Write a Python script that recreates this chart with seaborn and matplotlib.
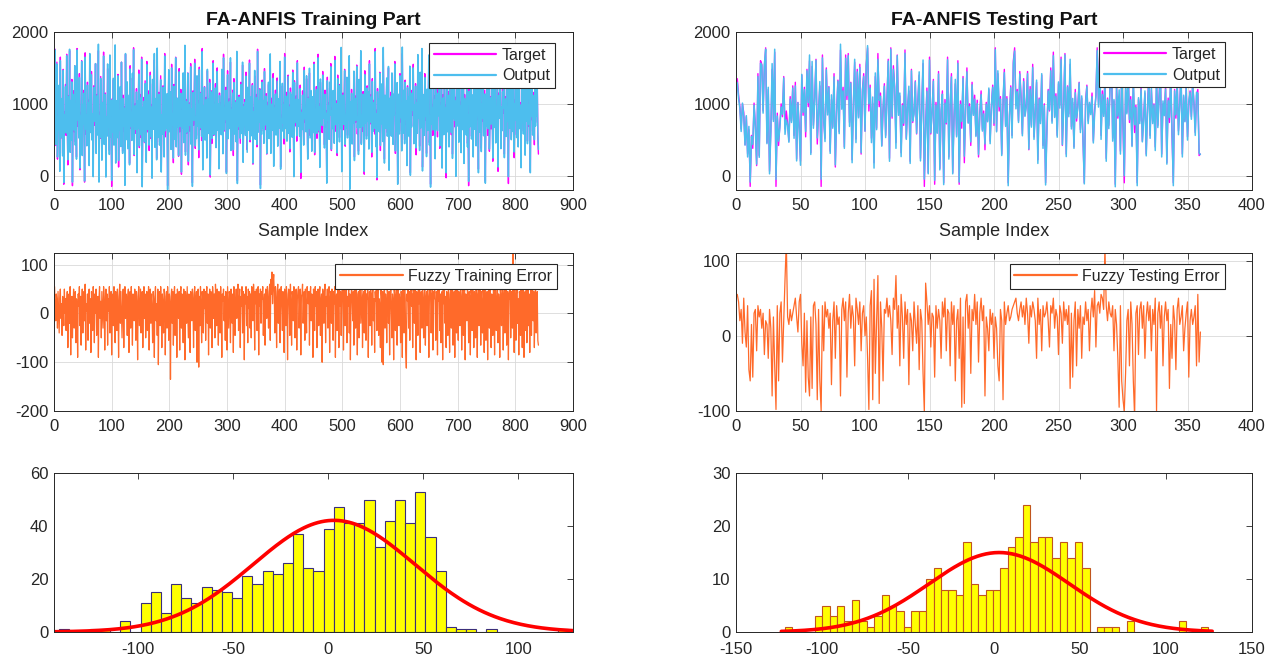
import matplotlib
matplotlib.use("Agg")
import matplotlib.pyplot as plt
import numpy as np
import pandas as pd
import seaborn as sns

sns.set_theme(style="white")
plt.rcParams['font.family'] = ['Liberation Sans', 'DejaVu Sans']
plt.rcParams['axes.unicode_minus'] = False

# training target (840 samples)
train_target = [
    700, 1760, 420, 980, 1580, 230, 860, 640, 1220, 90, 1650, 520, 760, 1030, 310, 1480, -120, 890, 640, 1270,
    560, 1690, 820, 150, 1110, 700, 1740, 380, 960, 520, 1340, -140, 800, 1180, 610, 1530, 470, 930, 260, 1770,
    690, 1010, 540, 1420, 80, 870, 620, 1600, 330, 950, 740, 1190, -90, 1710, 580, 860, 420, 1300, 760, 1050,
    190, 1680, 630, 900, 1450, 510, 820, 40, 1250, 700, 980, 1560, 360, 760, 1130, 600, 1740, -60, 880, 520,
    1380, 820, 260, 1020, 640, 1720, 470, 910, 1150, 30, 800, 590, 1490, 710, 980, 350, 1640, 560, 840, -150,
    1070, 650, 1330, 480, 890, 1760, 220, 760, 1010, 580, 1410, 120, 930, 690, 1220, 450, 1580, 800, 340, 1120,
    620, 960, -80, 1690, 540, 870, 1260, 410, 780, 1040, 170, 1530, 660, 920, 500, 1360, 730, 1780, 280, 850,
    1000, 590, 1210, 60, 940, 700, 1470, 390, 820, 1130, 530, 1650, -110, 880, 640, 1090, 460, 1320, 770, 210,
    1590, 610, 910, 1180, 350, 760, 1440, 520, 990, -30, 1280, 690, 850, 1610, 430, 720, 1060, 240, 1730, 580,
    830, 1160, 470, 940, 1390, 60, 770, 620, 1250, 880, 310, 1700, 540, 960, 710, 1110, -140, 860, 1420, 650,
    780, 1030, 400, 1550, 690, 900, 180, 1270, 560, 820, 1650, 440, 990, 730, 1080, 270, 1490, 610, 870, 1200,
    20, 940, 680, 1370, 510, 800, 1720, 330, 1060, 590, 880, 1430, 150, 760, 1010, 620, 1560, 470, 910, -100,
    1180, 700, 950, 1620, 380, 830, 560, 1290, 720, 1040, 250, 1510, 640, 870, 1160, 490, 1770, 110, 930, 680,
    1240, 540, 860, 1090, 300, 1460, 730, 980, 610, 1340, -20, 900, 1180, 450, 780, 1600, 560, 1020, 700, 1280,
    420, 850, 1500, 650, 930, 140, 1150, 760, 1010, 580, 1390, 860, 330, 1690, 620, 970, 740, 1230, 50, 880,
    1460, 530, 810, 1070, 690, 1580, 400, 940, 760, 1190, 280, 1350, 610, 880, 1040, 520, 1720, -70, 960, 650,
    1120, 780, 450, 1300, 870, 640, 1540, 230, 990, 720, 1060, 580, 1440, 810, 360, 1170, 680, 920, 1610, 470,
    830, 1050, 610, 1280, 160, 940, 700, 1390, 550, 870, 1130, 400, 1760, 660, 960, 790, 1210, -130, 890, 620,
    1330, 720, 1000, 470, 1490, 640, 850, 1140, 300, 1020, 760, 1270, 560, 920, 1640, 380, 830, 1080, 650, 1420,
    210, 970, 740, 1190, 590, 880, 1360, 470, 1050, 700, 960, 1530, 120, 840, 630, 1250, 780, 1010, 440, 1700,
    690, 900, 1160, 520, 810, 1400, 640, 980, 330, 1220, 760, 1060, 580, 1470, 870, 40, 1320, 690, 940, 1110,
    480, 1600, 730, 890, 1030, 570, 1260, -40, 910, 680, 1180, 820, 450, 1510, 740, 970, 620, 1350, 860, 260,
    1090, 710, 1430, 560, 930, 1170, 380, 840, 1010, 650, 1580, 290, 960, 770, 1240, 520, 880, 1690, 610, 1000,
    170, 1300, 750, 920, 600, 1450, 830, 1060, 430, 1190, 680, 900, -90, 1370, 740, 1010, 560, 1220, 870, 1560,
    350, 950, 690, 1130, 810, 470, 1660, 620, 880, 1040, 280, 1400, 760, 960, 530, 1270, 700, 1740, 90, 850,
    1150, 640, 990, 1480, 410, 870, 720, 1310, 560, 1070, 820, 1630, -150, 930, 680, 1200, 470, 1020, 780, 1390,
    260, 1110, 740, 950, 1540, 580, 860, 340, 1290, 700, 1010, 1720, 450, 830, 620, 1170, 890, 20, 1460, 760,
    980, 550, 1250, 810, 1080, 390, 1600, 720, 940, 1130, 260, 1350, 670, 880, 1050, 580, 1770, 430, 910, -60,
    1210, 800, 1020, 640, 1440, 350, 970, 760, 1180, 520, 1680, 880, 230, 1090, 700, 950, 1300, 600, 840, 1500,
    120, 990, 730, 1160, 560, 1380, 800, 460, 1040, 900, 1590, 310, 870, 680, 1230, -100, 960, 1110, 620, 1420,
    750, 1000, 380, 1700, 640, 880, 1150, 500, 1330, 720, 930, 180, 1250, 810, 1060, 590, 1470, 40, 920, 690,
    1190, 840, 1550, 470, 960, 720, 1280, 290, 1060, 620, 1640, 850, 1010, 410, 1360, 700, 900, 1740, 120, 830,
    1080, 600, 1420, 770, 940, 310, 1180, 680, 1030, 1590, 460, 880, -120, 1270, 740, 990, 560, 1480, 820, 1110,
    250, 1650, 700, 950, 540, 1200, 860, 1760, 380, 1010, 660, 1320, 150, 900, 1130, 590, 1440, 780, 980, -30,
    1520, 640, 890, 1170, 420, 1360, 720, 1040, 570, 1710, 300, 960, 820, 1250, 680, 1090, 20, 1580, 740, 930,
    1200, 510, 1690, 800, 1020, 360, 1300, 670, 940, 1480, 190, 1130, 760, 1000, 600, 1770, 450, 870, -140, 1220,
    710, 980, 1400, 550, 1090, 820, 280, 1610, 690, 930, 1160, 470, 1340, 780, 1050, 90, 1500, 640, 910, 1260,
    380, 1020, 760, 1650, 590, 870, 1190, -80, 1080, 730, 1390, 560, 960, 1710, 340, 820, 1100, 650, 1470, 900,
    200, 1260, 700, 1040, 1560, 480, 890, 760, 1330, 60, 1150, 820, 990, 1620, 410, 930, 680, 1210, 870, 1740,
    300, 960, 1100, 600, 1450, 780, 1000, -110, 1300, 690, 920, 1540, 520, 860, 1180, 740, 1680, 250, 1050, 800,
    1360, 570, 980, 1230, 430, 1600, 700, 1020, 880, 160, 1400, 760, 1070, 620, 1500, 940, 330, 1190, 810, 1720,
    480, 1040, 690, 1310, 900, 60, 1250, 780, 1450, 620, 980, 1160, 430, 1560, 740, 1090, 860, 1280, 540, 300,
]

# training error = target - output
train_error = [
    55, 10, -15, 40, 25, -30, 45, 5, -40, 30, 50, -10, 20, -45, 35, 15, -25, 50, 0, 30,
    -35, 20, 45, -70, 10, 40, -20, 55, -85, 25, 35, -50, 15, 50, -30, 0, 45, -60, 30, 20,
    -90, 40, 15, 55, -25, 35, -65, 10, 50, -40, 25, 45, -15, 60, -75, 20, 5, 40, -55, 35,
    50, -20, 30, -80, 45, 15, -35, 55, 25, -60, 40, 0, 50, -45, 20, 35, -90, 30, 55, -10,
    25, -50, 45, 10, -30, 55, 35, -75, 20, 50, -15, 40, -65, 30, 5, 55, -40, 25, 45, -85,
    15, 40, -25, 55, 30, -60, 45, 10, -35, 50, 20, -90, 35, 60, -20, 45, 0, -50, 30, 50,
    -70, 25, 55, -10, 40, 15, -45, 35, 50, -80, 20, 45, -30, 55, 10, -65, 40, 25, -15, 50,
    30, -55, 45, 20, -95, 35, 55, -25, 10, 50, -40, 30, 45, -70, 20, 55, -10, 40, -50, 25,
    45, -35, 15, 55, -75, 30, 50, -20, 40, 5, -60, 45, 25, -90, 35, 55, -15, 20, -45, 50,
    -105, 30, 45, -25, 55, 10, -70, 40, 20, -40, 50, 35, -85, 15, 45, -30, 55, 25, -55, 40,
    20, -135, 35, 50, -20, 45, -65, 30, 55, -45, 10, 40, -90, 50, 25, -10, 45, -75, 35, 55,
    -30, 40, 15, -60, 50, 25, -95, 45, 30, -20, 55, 5, -50, 40, 20, -80, 45, 35, -15, 50,
    25, -70, 40, 55, -35, 20, 45, -100, 30, 50, -110, 35, -25, 55, 15, -60, 45, 30, -40, 50,
    10, 45, -55, 35, 55, -20, 40, -85, 25, 50, -30, 45, 15, -70, 55, 35, -10, 40, -50, 60,
    30, -25, 50, 20, -65, 45, 35, -40, 55, 10, -90, 40, 25, 50, -15, 35, -55, 45, 20, -75,
    55, 15, -30, 45, 35, -60, 50, 25, -20, 40, -80, 55, 30, -45, 20, 50, -10, 40, 60, -35,
    25, 50, -70, 35, 15, 55, -40, 45, 30, -95, 40, 20, 55, -25, 35, -60, 50, 10, 45, -30,
    40, -50, 55, 25, -15, 60, 35, -75, 45, 20, 50, -35, 30, 55, -85, 40, 15, 50, -20, 45,
    30, 55, -45, 20, 40, -65, 50, 35, -10, 55, 25, -30, 45, 60, -55, 70, 40, 85, 20, 65,
    80, 35, -40, 55, 25, -70, 45, 60, -20, 40, 50, -60, 30, 55, 15, -35, 45, 25, -80, 50,
    35, -25, 55, 40, -95, 20, 50, 30, -45, 60, 15, -65, 45, 35, -15, 55, 25, -50, 40, 50,
    -75, 30, 45, 55, -30, 20, 50, -85, 35, 40, 60, -20, 25, 45, -55, 50, 10, -40, 55, 30,
    20, 45, -65, 35, 55, -15, 40, 25, -90, 50, 30, -35, 55, 15, 45, -70, 35, 50, -25, 40,
    55, -45, 25, 40, -100, 50, 30, -20, 45, 60, -60, 35, 15, 50, -30, 40, 55, -80, 25, 45,
    -20, 50, 35, -55, 45, 20, 55, -90, 30, 40, -35, 50, 25, -70, 60, 15, 45, -45, 35, 55,
    30, -75, 50, 20, -25, 45, 55, -60, 35, 15, 50, -40, 40, -95, 25, 55, 30, -15, 45, -65,
    50, 35, -30, 55, 20, -85, 40, 45, -50, 30, 60, -20, 15, 50, -70, 35, 45, -40, 55, 25,
    -55, 40, 30, 55, -90, 20, 45, -25, 50, 35, -65, 40, 55, -15, 30, -80, 45, 25, 50, -35,
    40, 55, -45, 30, 15, -70, 50, 35, -100, 45, -105, 25, 55, -30, 40, 20, -60, 50, 35, -20,
    45, -85, 30, 55, 10, -50, 40, 25, -95, 50, 35, -35, 45, 60, -65, 20, 55, -25, 40, 30,
    -60, 45, 35, -90, 50, 20, -40, 55, 30, -75, -112, 40, 25, 50, -30, 45, -55, 35, 55, 15,
    40, -70, 50, 25, -20, 55, 35, -95, 45, 30, -45, 50, 20, 60, -80, 35, 45, -30, 55, 25,
    -50, 40, 55, -65, 30, 45, -25, 50, 20, -90, 35, 55, 40, -40, 25, 50, -75, 45, 30, 55,
    15, -55, 45, 35, -85, 50, 25, 55, -35, 40, -60, 30, 45, -95, 50, 20, 55, -20, 35, -70,
    45, 30, -45, 55, 20, -80, 40, 50, -30, 35, 60, -65, 25, 45, -90, 55, 30, -40, 50, 20,
    -55, 45, 35, -25, 55, 40, -75, 30, 50, -45, 20, 55, -95, 40, 35, -15, 50, 25, -60, 45,
    30, -85, 50, 40, -35, 55, 20, -70, 45, 35, -50, 55, 30, -90, 40, 50, -25, 35, 55, -65,
    45, 20, -40, 50, 35, -80, 55, 25, -55, 40, 45, -95, 30, 55, -30, 50, 20, -70, 40, 35,
    -45, 55, 30, -85, 50, 25, -35, 45, 55, -60, 40, 20, -90, 50, 35, -25, 55, 45, -75, 30,
    50, -40, 35, 55, -65, 25, 45, -95, 40, 30, 55, -50, 20, 45, -30, 126, 35, -80, 50, 25,
    -55, 40, 55, -20, 30, -85, 45, 35, -45, 50, 20, -70, 55, 40, -90, 30, 45, -35, 50, -60,
    35, 55, -25, 40, -80, 20, 50, -45, 35, 55, -15, 45, -70, 30, 50, -40, 25, 45, -55, -65,
]

# testing target (360 samples)
test_target = [
    1350, 1120, 960, 650, 1000, 880, 430, 820, 300, 640, -150, 560, 380, 1010, 700, 140, 1420, 280, 1600, 1550,
    900, 1520, 1780, 460, 1200, 60, 620, 1480, 780, 1720, -150, 870, 420, 700, 1000, 820, 1380, 650, 900, 730,
    480, 1100, 760, 1250, 560, 1300, 230, 1020, 680, 200, 1400, 840, 1230, 540, 1480, 960, 1600, 320, 1520, 700,
    1080, 1620, 440, 900, 1250, -150, 1680, 760, 520, 1500, 880, 1240, 340, 1060, 680, 1420, 120, 900, 1330, 610,
    1750, 960, 1230, 400, 1680, 1060, 1700, 740, 1300, 220, 1000, 1580, 510, 1480, 820, 1550, 300, 1200, 1420, 620,
    1550, 1780, 900, 1260, 520, 1010, 180, 1380, 660, 1700, 960, 1150, 420, 900, 1280, 560, 1060, 1620, 240, 1780,
    800, 1530, 1240, 460, 1680, 880, 1110, 320, 1000, 700, 1750, 520, 960, 1180, 200, 1480, 740, 900, 1320, 580,
    1050, 1400, 240, 960, 1560, -150, 700, 1220, 40, 1650, 580, 900, 1340, -120, 1020, 600, 1450, 100, 880, 1180,
    -100, 1060, 720, 1650, 260, 960, 1420, 40, 820, 1280, 560, 1600, -120, 1040, 660, 1380, 180, 960, 1500, 740,
    1000, 420, 1300, 860, 1120, 560, 1050, 260, 880, 1180, 640, 900, 360, 1020, 760, 1200, 480, 980, 1260, 700,
    1780, 620, 1420, 900, 1100, 300, 980, 1480, 700, 1100, -100, 850, 1250, 560, 1600, 1780, 980, 1200, 760, 1450,
    1100, 580, 1350, 840, 1000, 1450, 360, 1240, 700, 1550, 540, 900, 1300, 220, 1080, 760, 1400, 420, 1000, -100,
    640, 1200, 900, 1500, 760, 1720, 820, 1140, 560, 1280, 980, 1650, 420, 1000, 1700, 300, 1250, 860, 1550, 680,
    1020, 400, 1200, 760, 980, 1300, 640, 1080, 500, -100, 1050, 1260, 760, 1000, 880, 1150, 480, 920, 1100, 1780,
    1000, 1700, 560, 1180, 860, 1400, 240, 1080, 700, 1300, 1700, 520, 1040, -120, 1250, 800, 1100, 340, 1450, 660,
    -100, 1200, 880, 1500, 740, 1100, 420, 1300, 600, 980, -100, 1060, 760, 1250, 480, 820, 1150, 300, 960, 1400,
    560, 1200, 760, 1000, 400, 1300, 700, 1120, 1500, 300, 1000, 860, 1250, 180, 1080, 740, 1400, 560, -100, 1200,
    800, 1320, 620, 1000, 1450, 300, 1100, 760, 1250, 540, 980, 1180, 820, 1300, 1020, 600, 1120, 1200, 280, 300,
]

test_error = [
    55, 45, 20, 35, -10, 50, 5, -15, 40, -45, -60, 15, -55, 30, 35, -20, 40, 25, 35, 10,
    30, -25, 20, 15, -30, 35, 10, -80, 25, -40, -98, 40, -60, 30, 45, -35, 20, 75, 125, 25,
    15, 35, 20, 30, 40, 50, 25, 5, 45, 55, -10, -40, 30, -75, 20, -55, -80, 25, -70, 40,
    45, 15, -85, 35, -60, -100, 40, -20, 45, 25, 35, 10, 30, -65, 20, 45, -30, 40, 15, 25,
    -80, 35, 50, 20, 45, -55, 30, 55, 10, 40, 25, -40, 50, 35, 15, 45, -20, 30, 40, 0,
    25, -30, -98, 40, 60, -85, 75, -50, 20, 80, -90, 45, 10, -60, 35, 30, 50, 25, 40, 20,
    -25, 50, 35, 80, 10, 40, -40, 55, 25, -30, 45, 15, 35, -65, 30, 20, -20, 45, 15, -10,
    40, -45, 35, 20, -50, -102, 70, 45, 15, 40, -15, 30, 25, -55, 40, 10, 35, 20, -30, 45,
    25, 50, -20, 35, 30, -40, 45, 15, 40, -60, 20, 35, -30, 50, -95, 25, -90, 45, 55, 10,
    40, -50, 35, 20, 55, 15, 45, -35, 30, 50, 20, 40, -80, 25, 10, -20, 35, 15, 30, -30,
    25, 10, -40, -60, 35, 20, -85, 45, 15, 30, 40, 20, 25, 35, 40, 45, 50, 30, 20, 35,
    45, 25, 40, 15, 50, 30, -10, 40, 25, 45, 35, 20, -30, 50, 15, 35, -20, 40, 25, 30,
    45, 20, -15, 40, 30, 50, 10, 35, 25, -25, 40, 30, -10, 45, 20, 35, 15, 40, -70, 30,
    -55, 20, 45, -40, 35, 10, 40, -30, 25, 15, 45, 20, 35, -20, 30, 50, 25, 60, -15, 40,
    45, 30, 55, 50, 35, 118, 40, 20, 45, 30, 25, 40, -20, 35, 15, -30, -95, 40, -60, -85,
    -100, -50, 20, 35, -40, 45, 15, -60, -108, 30, 40, -25, 35, 45, 10, 40, -30, 25, 45, 20,
    40, -20, 35, 15, 50, -100, 30, 45, 10, 40, -40, 25, 45, 20, 35, -70, 15, -30, 40, 20,
    -45, 35, 50, 15, 25, 40, -20, 10, 30, 45, -55, 20, 35, 15, 25, 40, -40, 55, -35, 5,
]

# error histograms (bin counts) and normal fits
train_hist_min, train_hist_max = -141.7, 126.1
train_counts = [1, 0, 0, 1, 1, 0, 4, 0,
                11, 15, 7, 18, 13, 11, 17, 16, 15, 13, 21, 18, 23, 22, 26, 37, 24, 23,
                39, 47, 41, 41, 50, 32, 42, 50, 41, 53, 36, 23, 2,
                1, 1, 0, 1, 0, 0, 0, 0, 0, 0, 1]
train_fit_mu, train_fit_sigma = 3.0, 42.5

test_hist_min, test_hist_max = -121.5, 124.7
test_counts = [1, 0, 0, 0,
               3, 5, 3, 5, 2, 6, 2, 1, 3, 7, 5, 4, 1, 4, 4, 10, 12, 8, 8, 7,
               17, 9, 7, 8, 8, 12, 16, 18, 24, 17, 18, 18, 14, 17, 14, 17, 12,
               0, 1, 1, 1, 0, 2, 0, 0, 0, 0, 0, 0, 2,
               0, 0, 1]
test_fit_mu, test_fit_sigma = 3.0, 40.8

TEXT = '#262626'
MAGENTA = '#FF00FF'
CYAN = '#4DBEEE'
ORANGE = '#FF6A2A'


def style_axes(ax, grid=True, xpad=6):
    ax.tick_params(direction='in', top=True, right=True, length=4, width=0.6,
                   labelsize=12, labelcolor=TEXT, color=TEXT)
    ax.tick_params(axis='x', pad=xpad)
    ax.tick_params(axis='y', pad=4)
    for sp in ax.spines.values():
        sp.set_color(TEXT)
        sp.set_linewidth(0.7)
    if grid:
        ax.grid(True, color='#d9d9d9', linewidth=0.6)
        ax.set_axisbelow(True)
    else:
        ax.grid(False)


def add_legend(ax, anchor):
    leg = ax.legend(loc='upper right', bbox_to_anchor=anchor, borderaxespad=0,
                    frameon=True, fancybox=False, framealpha=1, edgecolor='#262626',
                    fontsize=11.5, handlelength=3.9, handletextpad=0.35,
                    borderpad=0.3, labelspacing=0.35)
    leg.get_frame().set_linewidth(0.8)
    for t in leg.get_texts():
        t.set_color(TEXT)
    for h in leg.get_lines():
        h.set_linewidth(1.6)


def series_panel(ax, target, error, title, xmax, anchor):
    n = min(len(target), len(error))
    idx = np.arange(1, n + 1)
    target = np.array(target[:n], dtype=float)
    output = target - np.array(error[:n], dtype=float)
    sns.lineplot(x=idx, y=target, ax=ax, color=MAGENTA, linewidth=1.0,
                 label='Target', estimator=None, sort=False)
    sns.lineplot(x=idx, y=output, ax=ax, color=CYAN, linewidth=1.1,
                 label='Output', estimator=None, sort=False)
    ax.set_xlim(0, xmax)
    ax.set_ylim(-200, 2000)
    ax.set_yticks([0, 1000, 2000])
    ax.set_title(title, fontsize=14, fontweight='bold', color='#111111', pad=5)
    ax.set_xlabel('Sample Index', fontsize=13, color=TEXT, labelpad=7)
    ax.set_ylabel('')
    style_axes(ax)
    add_legend(ax, anchor)


def error_panel(ax, error, label, xmax, ylim, yticks, anchor):
    idx = np.arange(1, len(error) + 1)
    sns.lineplot(x=idx, y=error, ax=ax, color=ORANGE, linewidth=0.9,
                 label=label, estimator=None, sort=False)
    ax.set_xlim(0, xmax)
    ax.set_ylim(*ylim)
    ax.set_yticks(yticks)
    ax.set_xlabel('')
    ax.set_ylabel('')
    style_axes(ax)
    add_legend(ax, anchor)


def hist_panel(ax, counts, lo, hi, mu, sigma, edge, xlim, ylim, yticks, xticks):
    nb = len(counts)
    width = (hi - lo) / nb
    centers = lo + width * (np.arange(nb) + 0.5)
    df = pd.DataFrame({'err': centers, 'n': np.array(counts, dtype=float)})
    sns.histplot(data=df, x='err', weights='n', bins=nb, binrange=(lo, hi), ax=ax,
                 color='#FFFF00', edgecolor=edge, linewidth=0.8, alpha=1)
    for p in ax.patches:
        p.set_facecolor('#FFFF00')
        p.set_edgecolor(edge)
    total = sum(counts)
    xs = np.linspace(lo - width / 2, hi + width / 2, 300)
    ys = total * width * np.exp(-0.5 * ((xs - mu) / sigma) ** 2) / (sigma * np.sqrt(2 * np.pi))
    sns.lineplot(x=xs, y=ys, ax=ax, color='#FF0000', linewidth=2.6)
    ax.set_xlim(*xlim)
    ax.set_ylim(*ylim)
    ax.set_xticks(xticks)
    ax.set_yticks(yticks)
    ax.set_xlabel('')
    ax.set_ylabel('')
    style_axes(ax, grid=False, xpad=7)


fig = plt.figure(figsize=(12.76, 6.62), dpi=100)
fig.patch.set_facecolor('white')

W, H = 1276, 662
def rect(x0, x1, y0, y1):
    return [x0 / W, 1 - y1 / H, (x1 - x0) / W, (y1 - y0) / H]

ax_tl = fig.add_axes(rect(54, 573, 32, 190))
ax_tr = fig.add_axes(rect(736, 1252, 32, 190))
ax_ml = fig.add_axes(rect(54, 573, 253, 411))
ax_mr = fig.add_axes(rect(736, 1252, 253, 411))
ax_bl = fig.add_axes(rect(54, 573, 473, 632))
ax_br = fig.add_axes(rect(736, 1252, 473, 632))

series_panel(ax_tl, train_target, train_error, 'FA-ANFIS Training Part', 900, (0.965, 0.93))
series_panel(ax_tr, test_target, test_error, 'FA-ANFIS Testing Part', 400, (0.947, 0.935))
ax_tl.set_xticks(np.arange(0, 901, 100))
ax_tr.set_xticks(np.arange(0, 401, 50))

error_panel(ax_ml, train_error, 'Fuzzy Training Error', 900, (-200, 124),
            [-200, -100, 0, 100], (0.969, 0.93))
error_panel(ax_mr, test_error, 'Fuzzy Testing Error', 400, (-100, 110),
            [-100, 0, 100], (0.947, 0.93))
ax_ml.set_xticks(np.arange(0, 901, 100))
ax_mr.set_xticks(np.arange(0, 401, 50))

hist_panel(ax_bl, train_counts, train_hist_min, train_hist_max, train_fit_mu, train_fit_sigma,
           '#3A2E7A', (-144.4, 128.8), (0, 60), [0, 20, 40, 60], [-100, -50, 0, 50, 100])
hist_panel(ax_br, test_counts, test_hist_min, test_hist_max, test_fit_mu, test_fit_sigma,
           '#C0551E', (-150, 150), (0, 30), [0, 10, 20, 30], [-150, -100, -50, 0, 50, 100, 150])

fig.savefig('out.png', dpi=100, facecolor='white')
